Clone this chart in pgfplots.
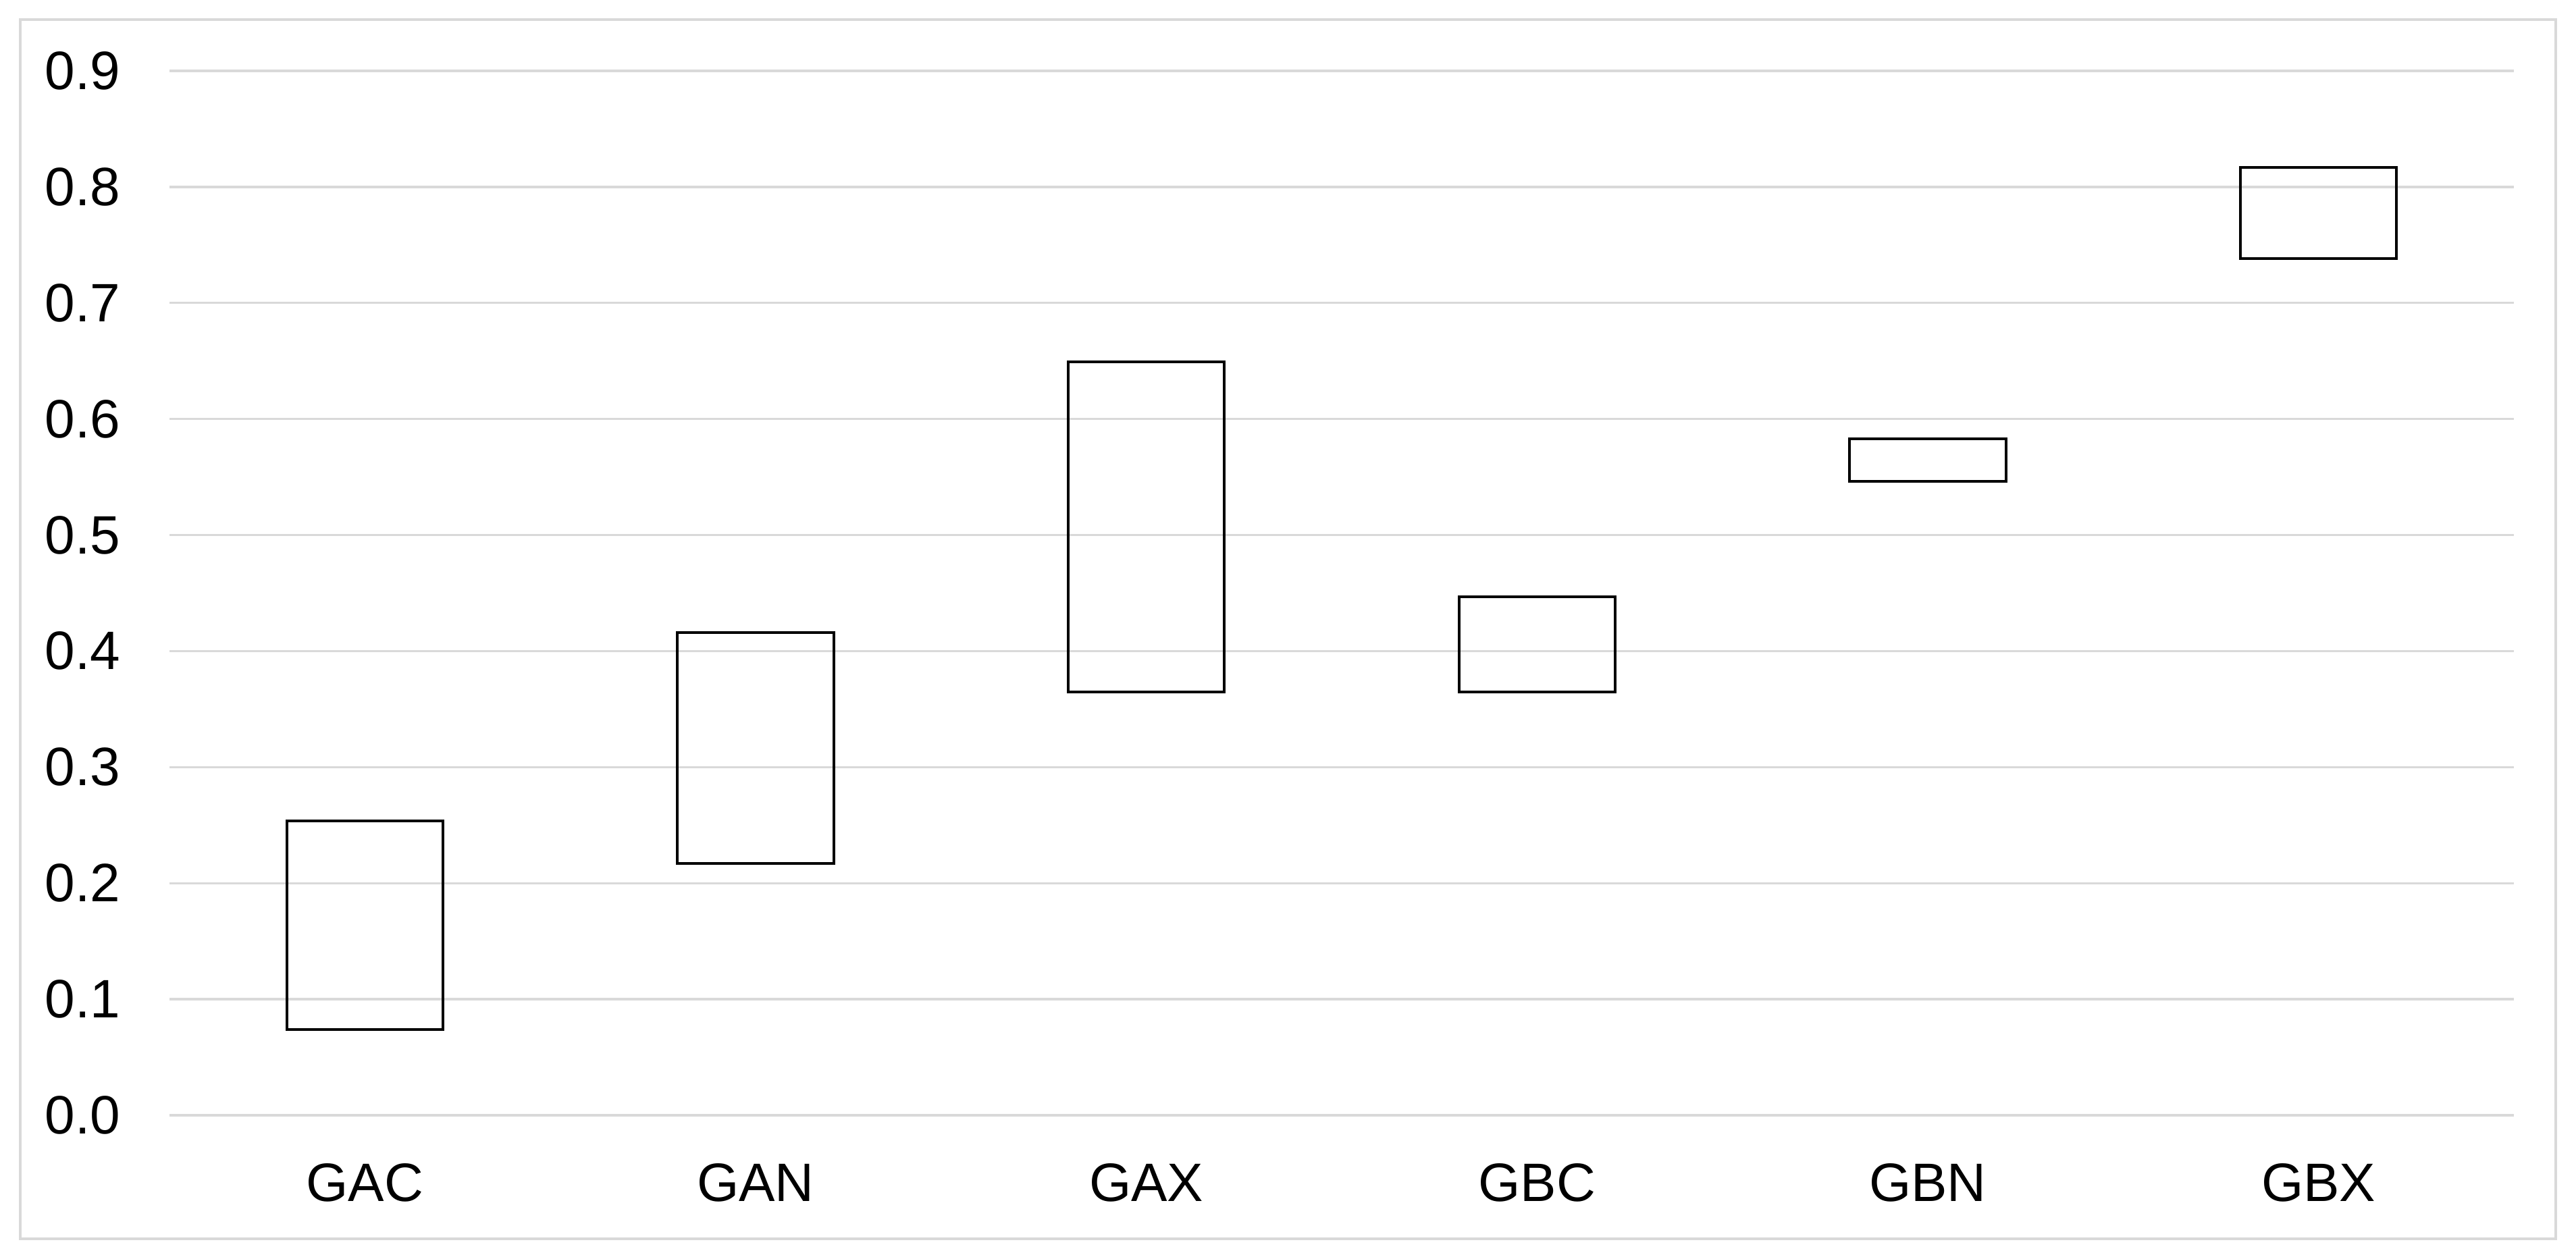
\documentclass[border=0pt]{standalone}
\usepackage{fontspec}
\setmainfont{Liberation Sans}
\usepackage{pgfplots}
\usepackage{pgfplotstable}
\pgfplotsset{compat=1.18}
\definecolor{gridgray}{HTML}{D9D9D9}

% floating bars: low and high end of each range
\pgfplotstableread{
x low high
0 0.074 0.2535
1 0.217 0.416
2 0.365 0.649
3 0.365 0.4465
4 0.5465 0.583
5 0.738 0.817
}\ranges

\begin{document}
\begin{tikzpicture}
\useasboundingbox (-26.32pt,-21.70pt) rectangle (373.68pt,173.21pt);
\draw[gridgray, line width=0.42pt] (-23.17pt,-19.18pt) rectangle (370.54pt,170.17pt);
\begin{axis}[at={(0,0)}, anchor=south west, scale only axis,
 width=364.04pt, height=162.2pt,
 xmin=-0.5, xmax=5.5, ymin=0, ymax=0.9,
 ytick={0,0.1,0.2,0.3,0.4,0.5,0.6,0.7,0.8,0.9},
 xtick={0,1,2,3,4,5}, xticklabels={GAC,GAN,GAX,GBC,GBN,GBX},
 ybar stacked, bar width=0.4,
 axis line style={draw=none}, tick style={draw=none}, major tick length=0pt,
 ymajorgrids, grid style={gridgray, line width=0.35pt},
 font=\fontsize{8.4}{10}\selectfont,
 yticklabel style={anchor=east, inner sep=0pt, xshift=-7.44pt,
   /pgf/number format/.cd, fixed, fixed zerofill, precision=1, assume math mode=true},
 xticklabel style={anchor=north, inner sep=0pt, yshift=-7.34pt},
]
\addplot[draw=none, fill=none] table[x=x, y=low] {\ranges};
\addplot[draw=black, fill=none, line width=0.42pt] table[x=x, y expr=\thisrow{high}-\thisrow{low}] {\ranges};
\end{axis}
\end{tikzpicture}
\end{document}
